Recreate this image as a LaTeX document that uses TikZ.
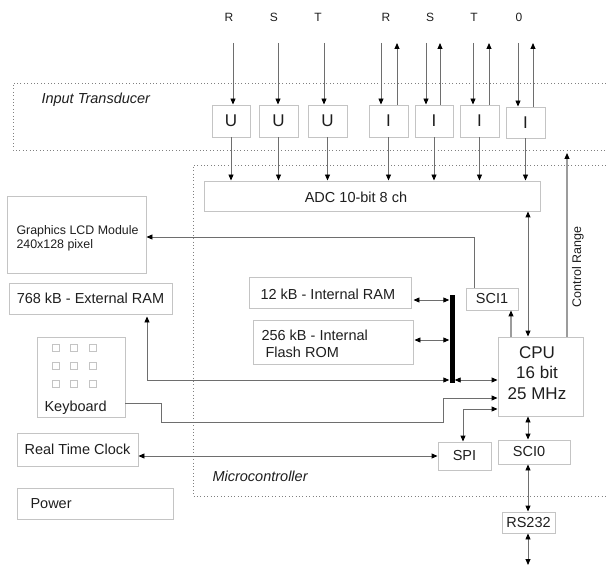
\documentclass[tikz,border=0pt]{standalone}
\usepackage{fontspec}
\setmainfont{Liberation Sans}
\usetikzlibrary{arrows.meta,calc}
\definecolor{boxgray}{HTML}{C4C4C4}
\definecolor{linegray}{HTML}{6E6E6E}
\definecolor{lightline}{HTML}{9C9C9C}
\definecolor{txt}{HTML}{1E1E1E}
\tikzset{
  box/.style={draw=boxgray, line width=0.9pt, inner sep=0pt, text=txt},
  conn/.style={draw=linegray, line width=0.9pt},
  tip/.tip={Triangle[length=6pt,width=5pt,color=black]},
  arr/.style={conn, -tip},
  darr/.style={conn, tip-tip},
  arrl/.style={draw=lightline, line width=1.1pt, -tip},
  dotbox/.style={draw=gray, line width=0.8pt, dash pattern=on 0.8pt off 2.6pt},
  fn/.style={font=\fontsize{14.5}{17}\selectfont, text=txt},
  fs/.style={font=\fontsize{12.4}{13.5}\selectfont, text=txt},
  fb/.style={font=\fontsize{17}{20.5}\selectfont, text=txt},
  key/.style={draw=boxgray, line width=0.8pt, minimum width=7pt, minimum height=7pt, inner sep=0pt},
}
\begin{document}
\begin{tikzpicture}[x=1pt,y=-1pt]
\useasboundingbox (0,0) rectangle (606,567);

% dotted frames
\draw[dotbox] (606,83) -- (13,83) -- (13,150) -- (606,150);
\draw[dotbox] (606,165) -- (193,165) -- (193,496) -- (606,496);
\node[fn, font=\fontsize{14.5}{17}\itshape\selectfont, anchor=west] (itlab) at (38,100) {Input Transducer};
\node[fn, font=\fontsize{14.5}{17}\itshape\selectfont, anchor=west] (mclab) at (209,476) {Microcontroller};

% top labels
\foreach \n/\x/\t in {t1/229/R, t2/274/S, t3/318/T, t4/386/R, t5/430/S, t6/474/T, t7/519/0}
  \node[font=\fontsize{12}{14}\selectfont, text=txt] (\n) at (\x,17) {\t};

% transducer boxes
\foreach \n/\x/\w/\t in {U1/231/38/U, U2/278.5/39/U, U3/327.5/39/U, I1/388.5/39/I, I2/434/38/I, I3/479.5/39/I}
  \node[box, fb, minimum width=\w, minimum height=32] (\n) at (\x,121) {\t};
\node[box, fb, minimum width=39, minimum height=31] (I4) at (525.5,122.5) {I};

% ADC
\node[box, minimum width=336, minimum height=30] (ADC) at (372,196) {};
\node[fn] (adct) at (356,197) {ADC 10-bit 8 ch};

% input arrows
\foreach \x/\b in {233/U1, 278/U2, 324/U3, 381/I1, 426/I2, 473/I3, 518/I4}{
  \coordinate (in\b) at (\x,43);
  \draw[arr] (in\b) -- (in\b |- \b.north);
}
\foreach \x/\b in {397/I1, 440/I2, 489/I3, 533/I4}{
  \coordinate (out\b) at (\x,43);
  \draw[arr] (out\b |- \b.north) -- (out\b);
}
% to ADC
\foreach \b in {U1,U2,U3,I1,I2,I3,I4}
  \draw[arr] (\b.south) -- (\b.south |- ADC.north);

% CPU etc
\node[box, minimum width=85, minimum height=79] (CPU) at (540.5,376.5) {};
\node[fb, align=center] (cput) at (537,373) {CPU\\16 bit\\25 MHz};
\node[box, fn, minimum width=52, minimum height=22] (SCI1) at (492,299) {SCI1};
\node[box, fn, minimum width=72, minimum height=24] (SCI0) at (534,452) {};
\node[fn] (sci0t) at (529,452) {SCI0};
\node[box, fn, minimum width=53, minimum height=28] (SPI) at (464.5,456) {SPI};
\node[box, fn, minimum width=53, minimum height=21] (RS) at (528.5,522.5) {RS232};
\coordinate (rsend) at (528,565);

% memory
\node[box, minimum width=162, minimum height=31] (RAM) at (330,292.5) {};
\node[fn, anchor=west] (ramt) at (257,294) {12 kB - Internal RAM};
\node[box, minimum width=160, minimum height=44] (ROM) at (333,342) {};
\node[fn, anchor=west, align=left] (romt) at (258,344) {256 kB - Internal\\\ Flash ROM};
\node[fill=black, minimum width=5, minimum height=88, inner sep=0pt] (bus) at (452,339) {};

% left column
\node[box, minimum width=139, minimum height=77] (LCD) at (76.5,234.5) {};
\node[fs, anchor=west, align=left] (lcdt) at (13,238.5) {Graphics LCD Module\\240x128 pixel};
\node[box, fn, minimum width=163, minimum height=31] (ERAM) at (90.5,298.5) {768 kB - External RAM};
\node[box, minimum width=88, minimum height=80] (KB) at (81,377) {};
\node[fn, anchor=west] (kbt) at (41,408) {Keyboard};
\foreach \i/\x in {1/56,2/74,3/93}
  \foreach \j/\y in {1/348,2/366,3/384}
    \node[key] (k\i\j) at (\x,\y) {};
\node[box, fn, minimum width=121, minimum height=33] (RTC) at (77.5,449.5) {Real Time Clock};
\node[box, minimum width=156, minimum height=31] (PWR) at (95,503.5) {};
\node[fn, anchor=west] (pwrt) at (27,504) {Power};

% connections
\coordinate (sciup) at (474,237);
\draw[arr] (sciup |- SCI1.north) -- (sciup) -- (sciup -| LCD.east);
\coordinate (adccpu) at (528,211);
\draw[darr] (adccpu |- ADC.south) -- (adccpu |- CPU.north);
\coordinate (crtop) at (567,153);
\draw[arrl] (crtop |- CPU.north) -- (crtop);
\node[font=\fontsize{12.5}{14}\selectfont, text=txt, rotate=90] (crt) at (578,267) {Control Range};
\coordinate (cpusci) at (511,310);
\draw[arrl] (cpusci |- CPU.north) -- (cpusci |- SCI1.south);

\coordinate (ramy) at (0,300);
\draw[darr] ([xshift=2pt]RAM.east |- ramy) -- (bus.west |- ramy);
\coordinate (romy) at (0,340);
\draw[darr] ([xshift=1pt]ROM.east |- romy) -- (bus.west |- romy);
\coordinate (busy) at (147,380);
\draw[darr] ([yshift=-2pt]busy |- ERAM.south) -- (busy) -- (busy -| bus.west);
\draw[darr] (bus.east |- busy) -- (CPU.west |- busy);

\coordinate (kb1) at (161,403);
\coordinate (kb2) at (443,422);
\coordinate (kb3) at (443,398);
\draw[arr] (KB.east |- kb1) -- (kb1) |- (kb2) -- (kb3) -- (kb3 -| CPU.west);
\coordinate (spi1) at (463,409);
\draw[darr] (spi1 |- SPI.north) -- (spi1) -- (spi1 -| CPU.west);
\draw[darr] (RTC.east |- SPI.west) -- (SPI.west);

\draw[darr] (adccpu |- CPU.south) -- (adccpu |- SCI0.north);
\draw[darr] (adccpu |- SCI0.south) -- (adccpu |- RS.north);
\draw[darr] (adccpu |- RS.south) -- (rsend);
\end{tikzpicture}
\end{document}
